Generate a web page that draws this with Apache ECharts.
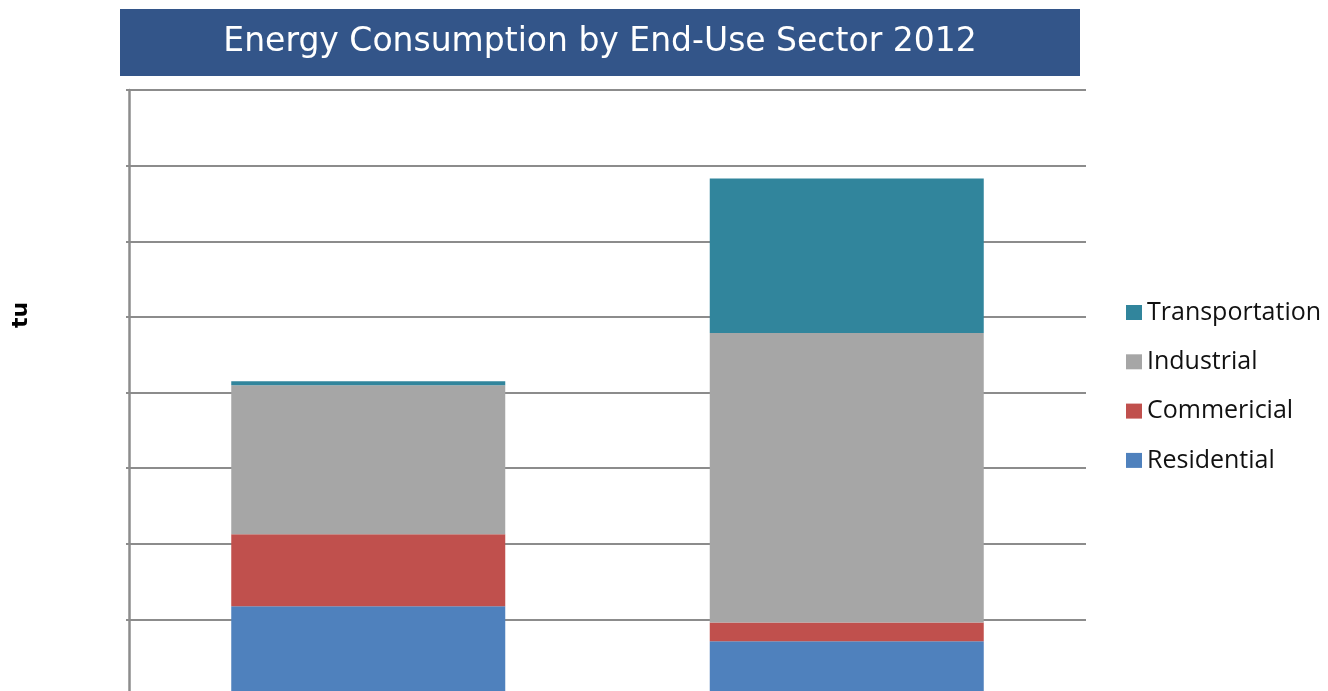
<!DOCTYPE html>
<html>
<head>
<meta charset="utf-8">
<title>Energy Consumption by End-Use Sector 2012</title>
<script src="https://cdn.jsdelivr.net/npm/echarts@6/dist/echarts.min.js"></script>
<style>
  html, body { margin: 0; padding: 0; background: #ffffff; overflow: hidden; }
  /* the drawing runs a few pixels past the window so the zero line stays out of view */
  #chart { width: 1328px; height: 695px; }
</style>
</head>
<body>
<div id="chart"></div>
<script>
// Two stacked columns, one segment per end-use sector (quadrillion Btu).
const categories = ['Group 1', 'Group 2'];
const residential = [5.86, 3.55];
const commercial = [4.77, 1.25];
const industrial = [9.85, 19.13];
const transportation = [0.27, 10.22];

const seriesNames = ['Residential', 'Commericial', 'Industrial', 'Transportation'];
const seriesColors = ['#4f81bd', '#c0504d', '#a6a6a6', '#31859c'];
const seriesValues = [residential, commercial, industrial, transportation];

const chart = echarts.init(document.getElementById('chart'));

const axisGray = '#8c8c8c';

chart.setOption({
  animation: false,
  backgroundColor: '#ffffff',
  grid: { left: 129, right: 242, top: 90, bottom: 0 },
  xAxis: {
    type: 'category',
    data: categories,
    axisLine: { show: true, lineStyle: { color: axisGray, width: 2 } },
    axisTick: { show: false },
    axisLabel: { show: false }
  },
  yAxis: {
    type: 'value',
    min: 0,
    max: 40,
    interval: 5,
    axisLabel: { show: false },
    axisLine: { show: true, lineStyle: { color: axisGray, width: 2.5 } },
    axisTick: { show: true, length: 3, lineStyle: { color: axisGray, width: 2 } },
    splitLine: { show: true, lineStyle: { color: axisGray, width: 2 } }
  },
  legend: {
    orient: 'vertical',
    left: 1121,
    top: 295,
    itemWidth: 16,
    itemHeight: 15,
    itemGap: 24.3,
    icon: 'rect',
    data: ['Transportation', 'Industrial', 'Commericial', 'Residential'],
    textStyle: { fontFamily: 'Open Sans', fontSize: 25, color: '#111111' }
  },
  series: seriesNames.map((name, i) => ({
    name: name,
    type: 'bar',
    stack: 'total',
    barWidth: 274,
    itemStyle: { color: seriesColors[i] },
    data: seriesValues[i]
  })),
  graphic: [
    {
      type: 'rect',
      shape: { x: 120, y: 9, width: 960, height: 67 },
      style: { fill: '#335589' },
      z: 10
    },
    {
      type: 'text',
      x: 600,
      y: 42,
      style: {
        text: 'Energy Consumption by End-Use Sector 2012',
        fill: '#ffffff',
        fontFamily: 'DejaVu Sans',
        fontSize: 33,
        align: 'center',
        verticalAlign: 'middle'
      },
      z: 11
    },
    {
      type: 'text',
      x: 21,
      y: 315,
      rotation: Math.PI / 2,
      style: {
        text: 'tu',
        fill: '#000000',
        fontFamily: 'DejaVu Sans',
        fontSize: 22,
        fontWeight: 'bold',
        align: 'center',
        verticalAlign: 'middle'
      }
    }
  ]
});
</script>
</body>
</html>
